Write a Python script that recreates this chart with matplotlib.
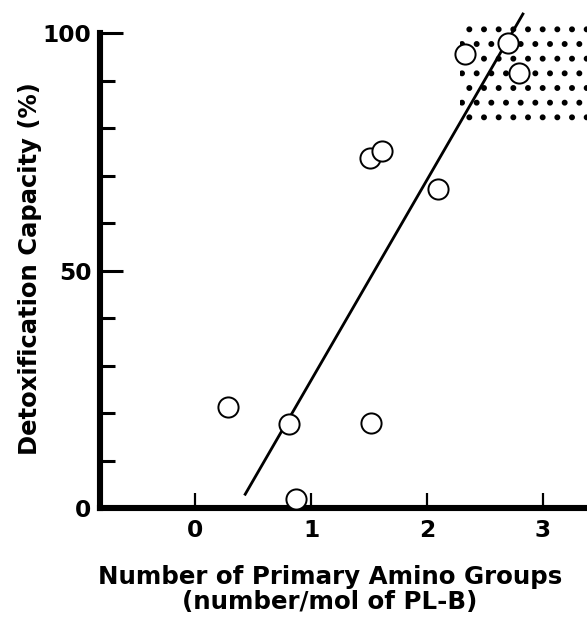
# Detoxification capacity vs number of primary amino groups on PL-B

import matplotlib
matplotlib.use('Agg')
import matplotlib.pyplot as plt
from matplotlib.ticker import MultipleLocator

plt.rcParams['font.family'] = ['DejaVu Sans']
plt.rcParams['font.weight'] = 'bold'
plt.rcParams['hatch.linewidth'] = 2.4

#measured points
amino = [0.28, 0.81, 0.87, 1.52, 1.51, 1.61, 2.10, 2.33, 2.70, 2.80]
detox = [21.3, 17.7, 1.9, 17.9, 73.7, 75.2, 67.2, 95.6, 97.9, 91.6]

#regression line end points
fit_x = [0.43, 2.83]
fit_y = [2.9, 104.0]

#dotted region
shade_x = [2.29, 3.6]
shade_lo = [81.5, 81.5]
shade_hi = [101.6, 101.6]

xticks = [0, 1, 2, 3]
yticks = [0, 50, 100]

dpi = 88
fig = plt.figure(figsize=(587/dpi, 622/dpi), dpi=dpi)
ax = fig.add_axes([100/587, 114/622, 487/587, 508/622])

ax.fill_between(shade_x, shade_lo, shade_hi, facecolor='none', edgecolor='black',
                linewidth=0, hatch='.', zorder=1)
ax.plot(fit_x, fit_y, color='black', linewidth=2.3, zorder=2, clip_on=False)
ax.plot(amino, detox, 'o', markersize=16.5, markerfacecolor='white',
        markeredgecolor='black', markeredgewidth=1.6, zorder=3, clip_on=False)

ax.set_xlim(-0.825, 3.384)
ax.set_ylim(0, 106.95)

for s in ['top', 'right']:
    ax.spines[s].set_visible(False)
ax.spines['left'].set_linewidth(5)
ax.spines['bottom'].set_linewidth(5)
ax.spines['left'].set_bounds(0, 100)

ax.set_xticks(xticks)
ax.set_yticks(yticks)
ax.yaxis.set_minor_locator(MultipleLocator(10))
ax.tick_params(axis='x', direction='in', length=12, width=1.8, pad=9, labelsize=19)
ax.tick_params(axis='y', which='major', direction='in', length=19, width=2.5, pad=7, labelsize=19)
ax.tick_params(axis='y', which='minor', direction='in', length=12, width=2.5)

ax.set_xlabel('Number of Primary Amino Groups\n(number/mol of PL-B)', fontsize=20,
              fontweight='bold', linespacing=1.05)
ax.xaxis.set_label_coords(0.472, -0.112)
ax.set_ylabel('Detoxification Capacity (%)', fontsize=19.8, fontweight='bold', va='center')
ax.yaxis.set_label_coords(-0.144, 0.472)

fig.savefig('out.png', dpi=dpi)
